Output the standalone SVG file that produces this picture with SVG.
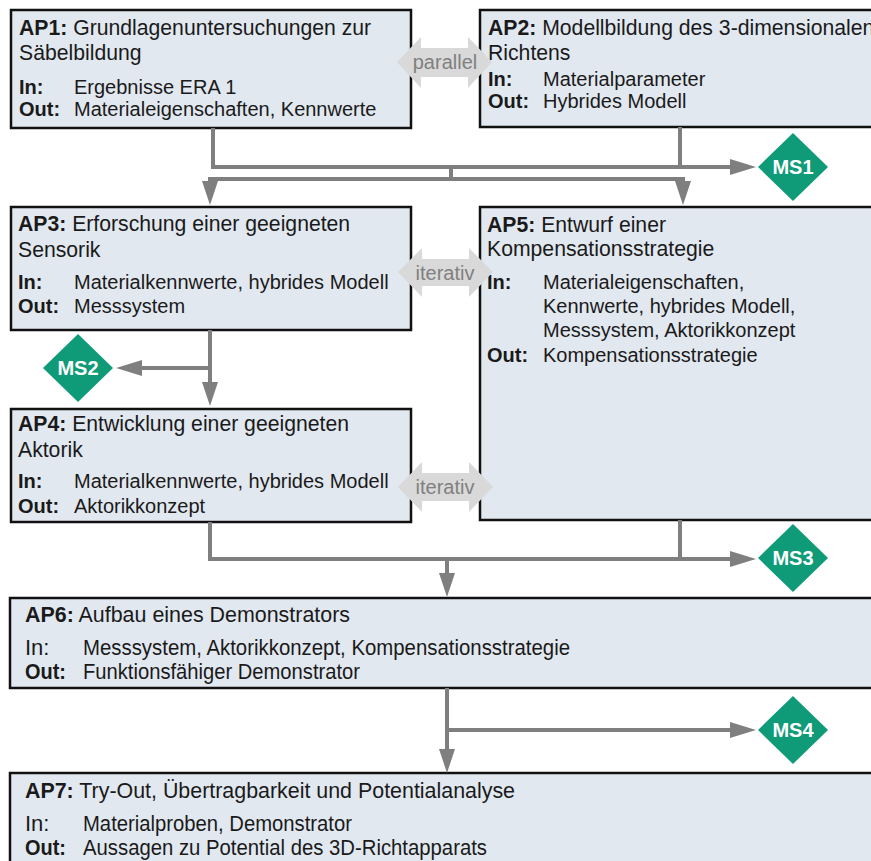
<svg xmlns="http://www.w3.org/2000/svg" width="871" height="861" viewBox="0 0 871 861">
<defs>
<style>
.box{fill:#e2e8f0;stroke:#111;stroke-width:2.5}
.t{font-family:"Liberation Sans",Arial,sans-serif;font-size:20px;fill:#1a1a1a}
.h{font-family:"Liberation Sans",Arial,sans-serif;font-size:21.2px;fill:#1a1a1a}
.n{font-family:"Liberation Sans",Arial,sans-serif;font-size:22px;fill:#1a1a1a}
.b{font-weight:bold}
.ln{fill:none;stroke:#7f7f7f;stroke-width:4}
.ah{fill:#7f7f7f}
.dbl{fill:#d9d9d9}
.dt{font-family:"Liberation Sans",Arial,sans-serif;font-size:20px;fill:#808080}
.ms{fill:#0f9a78}
.mt{font-family:"Liberation Sans",Arial,sans-serif;font-size:20px;font-weight:bold;fill:#fff;text-anchor:middle}
</style>
</defs>
<rect width="871" height="861" fill="#fff"/>

<g id="AP1">
<rect class="box" x="11" y="10" width="400" height="118"/>
<text class="h" x="19" y="35"><tspan class="b">AP1:</tspan> Grundlagenuntersuchungen zur</text>
<text class="h" x="19" y="60">Säbelbildung</text>
<text class="t b" x="19" y="94">In:</text><text class="t" x="74" y="94">Ergebnisse ERA 1</text>
<text class="t b" x="19" y="116">Out:</text><text class="t" x="74" y="116">Materialeigenschaften, Kennwerte</text>
</g>

<g id="AP2">
<rect class="box" x="480" y="10" width="420" height="117"/>
<text class="h" x="488" y="35"><tspan class="b">AP2:</tspan> Modellbildung des 3-dimensionalen</text>
<text class="h" x="488" y="60">Richtens</text>
<text class="t b" x="488" y="86">In:</text><text class="t" x="543" y="86">Materialparameter</text>
<text class="t b" x="488" y="108">Out:</text><text class="t" x="543" y="108">Hybrides Modell</text>
</g>

<g id="AP3">
<rect class="box" x="11" y="207" width="400" height="123"/>
<text class="h" x="18" y="231"><tspan class="b">AP3:</tspan> Erforschung einer geeigneten</text>
<text class="h" x="18" y="257">Sensorik</text>
<text class="t b" x="18" y="289">In:</text><text class="t" x="74" y="289">Materialkennwerte, hybrides Modell</text>
<text class="t b" x="18" y="313">Out:</text><text class="t" x="74" y="313">Messsystem</text>
</g>

<g id="AP4">
<rect class="box" x="11" y="409" width="400" height="113"/>
<text class="h" x="18" y="431"><tspan class="b">AP4:</tspan> Entwicklung einer geeigneten</text>
<text class="h" x="18" y="457">Aktorik</text>
<text class="t b" x="18" y="488">In:</text><text class="t" x="74" y="488">Materialkennwerte, hybrides Modell</text>
<text class="t b" x="18" y="513">Out:</text><text class="t" x="74" y="513">Aktorikkonzept</text>
</g>

<g id="AP5">
<rect class="box" x="480" y="207" width="420" height="313"/>
<text class="h" x="487" y="232"><tspan class="b">AP5:</tspan> Entwurf einer</text>
<text class="h" x="487" y="256">Kompensationsstrategie</text>
<text class="t b" x="487" y="289">In:</text><text class="t" x="543" y="289">Materialeigenschaften,</text>
<text class="t" x="543" y="313">Kennwerte, hybrides Modell,</text>
<text class="t" x="543" y="337">Messsystem, Aktorikkonzept</text>
<text class="t b" x="487" y="362">Out:</text><text class="t" x="543" y="362">Kompensationsstrategie</text>
</g>

<g id="AP6">
<rect class="box" x="10" y="598" width="890" height="90"/>
<text class="n" x="25" y="622" textLength="325" lengthAdjust="spacingAndGlyphs"><tspan class="b">AP6:</tspan> Aufbau eines Demonstrators</text>
<text class="n" x="25" y="655">In:</text><text class="n" x="83" y="655" textLength="487" lengthAdjust="spacingAndGlyphs">Messsystem, Aktorikkonzept, Kompensationsstrategie</text>
<text class="n b" x="25" y="679" textLength="41" lengthAdjust="spacingAndGlyphs">Out:</text><text class="n" x="83" y="679" textLength="277" lengthAdjust="spacingAndGlyphs">Funktionsfähiger Demonstrator</text>
</g>

<g id="AP7">
<rect class="box" x="10" y="773" width="890" height="110"/>
<text class="n" x="25" y="798" textLength="490" lengthAdjust="spacingAndGlyphs"><tspan class="b">AP7:</tspan> Try-Out, Übertragbarkeit und Potentialanalyse</text>
<text class="n" x="25" y="831">In:</text><text class="n" x="83" y="831" textLength="269" lengthAdjust="spacingAndGlyphs">Materialproben, Demonstrator</text>
<text class="n b" x="25" y="855" textLength="41" lengthAdjust="spacingAndGlyphs">Out:</text><text class="n" x="83" y="855" textLength="404" lengthAdjust="spacingAndGlyphs">Aussagen zu Potential des 3D-Richtapparats</text>
</g>

<g id="connectors">
<polyline class="ln" points="213,128 213,167 732,167"/>
<line class="ln" x1="680" y1="127" x2="680" y2="167"/>
<line class="ln" x1="451" y1="167" x2="451" y2="179"/>
<polyline class="ln" points="210,186 210,179 683,179 683,186"/>
<polygon class="ah" points="202,181 218,181 210,205"/>
<polygon class="ah" points="675,181 691,181 683,205"/>
<polygon class="ah" points="730,159 730,175 756,167"/>

<line class="ln" x1="210" y1="330" x2="210" y2="385"/>
<polygon class="ah" points="202,382 218,382 210,406"/>
<line class="ln" x1="210" y1="368" x2="138" y2="368"/>
<polygon class="ah" points="142,360 142,376 116,368"/>

<polyline class="ln" points="210,522 210,559 732,559"/>
<line class="ln" x1="680" y1="520" x2="680" y2="559"/>
<polygon class="ah" points="730,551 730,567 756,559"/>
<line class="ln" x1="447" y1="559" x2="447" y2="576"/>
<polygon class="ah" points="439,573 455,573 447,597"/>

<line class="ln" x1="447" y1="688" x2="447" y2="752"/>
<polygon class="ah" points="439,749 455,749 447,773"/>
<line class="ln" x1="447" y1="730" x2="732" y2="730"/>
<polygon class="ah" points="730,722 730,738 756,730"/>
</g>

<g id="parallel">
<polygon class="dbl" points="397,62 421,37 421,48 468,48 468,37 492,62 468,88 468,77 421,77 421,88"/>
<text class="dt" x="445" y="69" text-anchor="middle">parallel</text>
</g>
<g id="iterativ1">
<polygon class="dbl" points="398,272 422,248 422,259 469,259 469,248 493,272 469,297 469,286 422,286 422,297"/>
<text class="dt" x="445" y="280" text-anchor="middle">iterativ</text>
</g>
<g id="iterativ2">
<polygon class="dbl" points="398,487 422,462 422,473 469,473 469,462 493,487 469,512 469,501 422,501 422,512"/>
<text class="dt" x="445" y="494" text-anchor="middle">iterativ</text>
</g>

<g id="MS1">
<polygon class="ms" points="793,133 828,167 793,201 758,167"/>
<text class="mt" x="793" y="174">MS1</text>
</g>
<g id="MS2">
<polygon class="ms" points="78,334 113,368 78,402 43,368"/>
<text class="mt" x="78" y="375">MS2</text>
</g>
<g id="MS3">
<polygon class="ms" points="793,524 828,558 793,592 758,558"/>
<text class="mt" x="793" y="565">MS3</text>
</g>
<g id="MS4">
<polygon class="ms" points="793,696 828,730 793,764 758,730"/>
<text class="mt" x="793" y="737">MS4</text>
</g>
</svg>
